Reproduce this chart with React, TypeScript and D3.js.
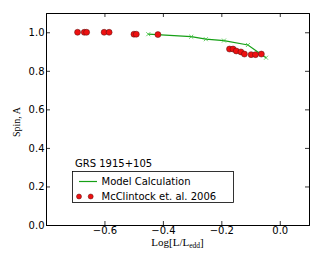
import React, { useRef, useEffect } from 'react';
import * as d3 from 'd3';

// McClintock et al. 2006 observations
const obsLogL = [-0.692, -0.669, -0.661, -0.601, -0.584, -0.499, -0.491, -0.417,
  -0.172, -0.160, -0.149, -0.133, -0.121, -0.098, -0.083, -0.063];
const obsSpin = [1.0, 1.0, 1.0, 1.0, 1.0, 0.99, 0.99, 0.988,
  0.913, 0.913, 0.903, 0.898, 0.887, 0.884, 0.884, 0.887];

// model calculation
const modelLogL = [-0.45, -0.303, -0.253, -0.191, -0.109, -0.069, -0.047];
const modelSpin = [0.99, 0.977, 0.964, 0.957, 0.934, 0.891, 0.868];

const xTicks = [-0.6, -0.4, -0.2, 0.0];
const yTicks = [0.0, 0.2, 0.4, 0.6, 0.8, 1.0];

const W = 332;
const H = 265;

const SpinChart = () => {
  const svgRef = useRef<SVGSVGElement>(null);

  useEffect(() => {
    const svg = d3.select(svgRef.current);
    svg.selectAll('*').remove();

    const margin = { top: 13, right: 23, bottom: 40, left: 46 };
    const innerWidth = W - margin.left - margin.right;
    const innerHeight = H - margin.top - margin.bottom;

    const x = d3.scaleLinear().domain([-0.8, 0.1]).range([0, innerWidth]);
    const y = d3.scaleLinear().domain([0, 1.1]).range([innerHeight, 0]);

    const g = svg.append('g')
      .attr('transform', `translate(${margin.left},${margin.top})`);

    const sans = 'DejaVu Sans, sans-serif';
    const serif = 'Liberation Serif, serif';
    const fmt = (d: number) => d.toFixed(1).replace('-', '\u2212');

    // axes (matplotlib style: inward ticks on all sides)
    const bottom = g.append('g').attr('transform', `translate(0,${innerHeight})`)
      .call(d3.axisBottom(x).tickValues(xTicks).tickSize(-4).tickPadding(2).tickFormat(fmt as any));
    const top = g.append('g')
      .call(d3.axisTop(x).tickValues(xTicks).tickSize(-4).tickFormat(() => ''));
    const left = g.append('g')
      .call(d3.axisLeft(y).tickValues(yTicks).tickSize(-4).tickPadding(1.5).tickFormat(fmt as any));
    const right = g.append('g').attr('transform', `translate(${innerWidth},0)`)
      .call(d3.axisRight(y).tickValues(yTicks).tickSize(-4).tickFormat(() => ''));

    [bottom, top, left, right].forEach(a => {
      a.select('.domain').attr('stroke', '#000').attr('stroke-width', 1);
      a.selectAll('.tick line').attr('stroke', '#000').attr('stroke-width', 0.8);
      a.selectAll('text').attr('fill', '#000').attr('font-family', sans).attr('font-size', 10);
    });

    // model line
    const model = modelLogL.map((v, i) => [v, modelSpin[i]] as [number, number]);
    const line = d3.line<[number, number]>().x(d => x(d[0])).y(d => y(d[1]));
    const green = '#16a016';
    g.append('path').datum(model)
      .attr('d', line)
      .attr('fill', 'none')
      .attr('stroke', green)
      .attr('stroke-width', 1.2);

    const cross = d3.symbol().type(d3.symbolTimes).size(12);
    g.append('g').selectAll('path')
      .data(model)
      .join('path')
      .attr('transform', d => `translate(${x(d[0])},${y(d[1])})`)
      .attr('d', cross)
      .attr('fill', 'none')
      .attr('stroke', '#3cc03c')
      .attr('stroke-width', 0.8);

    // observations
    g.append('g').selectAll('circle')
      .data(obsLogL.map((v, i) => [v, obsSpin[i]]))
      .join('circle')
      .attr('cx', d => x(d[0]))
      .attr('cy', d => y(d[1]))
      .attr('r', 3)
      .attr('fill', '#ee1111')
      .attr('stroke', '#551111')
      .attr('stroke-width', 0.5);

    // axis labels
    svg.append('text')
      .attr('x', margin.left + innerWidth / 2)
      .attr('y', 246)
      .attr('text-anchor', 'middle')
      .attr('font-family', serif)
      .attr('font-size', 11)
      .html('Log[L/L<tspan font-size="7.5" dy="2">edd</tspan><tspan dy="-2">]</tspan>');

    svg.append('text')
      .attr('transform', `translate(19.5,${margin.top + innerHeight / 2 + 3}) rotate(-90)`)
      .attr('text-anchor', 'middle')
      .attr('font-family', serif)
      .attr('font-size', 10)
      .text('Spin, A');

    // legend
    svg.append('text')
      .attr('x', 75).attr('y', 167)
      .attr('font-family', sans).attr('font-size', 10)
      .text('GRS 1915+105');

    const leg = svg.append('g');
    leg.append('rect')
      .attr('x', 72.5).attr('y', 171.5)
      .attr('width', 161).attr('height', 31)
      .attr('fill', '#fff').attr('stroke', '#000').attr('stroke-width', 0.8);
    leg.append('line')
      .attr('x1', 79).attr('x2', 97).attr('y1', 181.5).attr('y2', 181.5)
      .attr('stroke', green).attr('stroke-width', 1.2);
    leg.append('text')
      .attr('x', 101.5).attr('y', 184.5)
      .attr('font-family', sans).attr('font-size', 10)
      .text('Model Calculation');
    leg.selectAll('circle')
      .data([79, 90.7])
      .join('circle')
      .attr('cx', d => d).attr('cy', 196.5).attr('r', 2.5)
      .attr('fill', '#ee1111').attr('stroke', '#551111').attr('stroke-width', 0.5);
    leg.append('text')
      .attr('x', 101.5).attr('y', 199.5)
      .attr('font-family', sans).attr('font-size', 10)
      .text('McClintock et. al. 2006');
  }, []);

  return <svg ref={svgRef} width={W} height={H} style={{ display: 'block' }} />;
};

export default function App() {
  return (
    <div style={{ position: 'fixed', left: 0, top: 0, background: '#fff' }}>
      <SpinChart />
    </div>
  );
}
